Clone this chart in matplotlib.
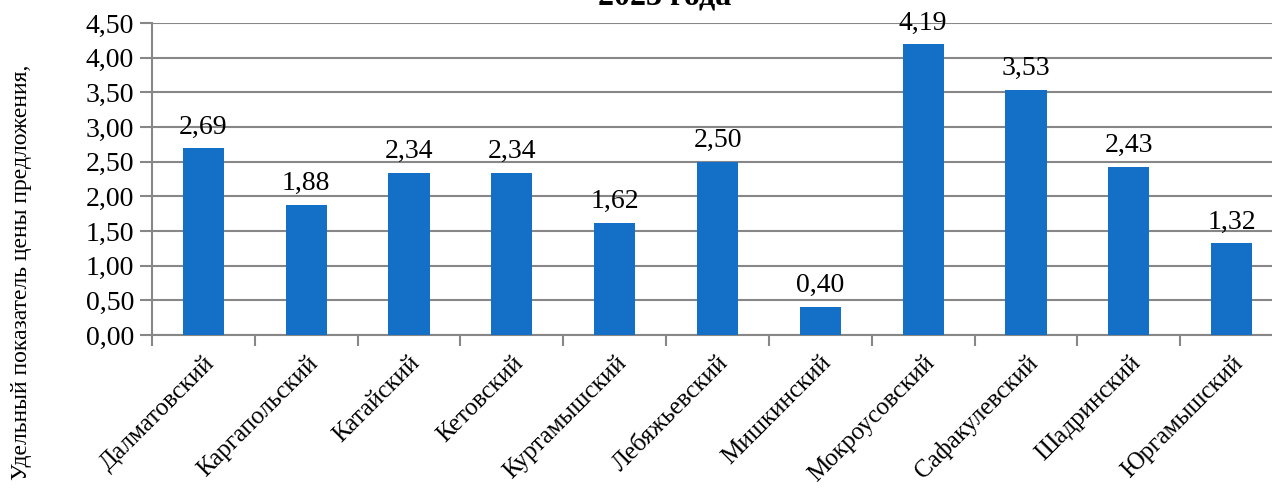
import numpy as np
from matplotlib import pyplot as plt

districts = ['Далматовский', 'Каргапольский', 'Катайский', 'Кетовский', 'Куртамышский',
             'Лебяжьевский', 'Мишкинский', 'Мокроусовский', 'Сафакулевский', 'Шадринский',
             'Юргамышский']
values = [2.69, 1.88, 2.34, 2.34, 1.62, 2.50, 0.40, 4.19, 3.53, 2.43, 1.32]
yticks = [0.0, 0.5, 1.0, 1.5, 2.0, 2.5, 3.0, 3.5, 4.0, 4.5]

plt.rcParams['font.family'] = ['Liberation Serif', 'DejaVu Serif']

fig = plt.figure(figsize=(12.72, 4.92), dpi=100)
ax = fig.add_axes([152 / 1272, 1 - 335 / 492, 1131 / 1272, 312 / 492])

x = np.arange(len(districts))
ax.bar(x, values, width=0.4, color='#1470C6', zorder=3)

for xi, v in zip(x, values):
    ax.text(xi, v + 0.13, f"{v:.2f}".replace('.', ','), ha='center', va='bottom', fontsize=20)

ax.set_xlim(-0.5, len(districts) - 0.5)
ax.set_ylim(0, 4.5)
ax.set_yticks(yticks)
ax.set_yticklabels([f"{t:.2f}".replace('.', ',') for t in yticks], fontsize=20)
ax.grid(axis='y', color='#878787', linewidth=1.5, zorder=0)

# подписи по центрам категорий, засечки по границам
ax.set_xticks(x)
ax.set_xticklabels(districts, fontsize=18, rotation=45, ha='right', va='top',
                   rotation_mode='anchor')
ax.tick_params(axis='x', which='major', length=0, pad=12)
ax.set_xticks(np.arange(len(districts) + 1) - 0.5, minor=True)
ax.tick_params(axis='x', which='minor', length=8, width=1.5, color='#878787')
ax.tick_params(axis='y', length=9, width=1.5, color='#878787', pad=4)

for s in ['top', 'right']:
    ax.spines[s].set_visible(False)
for s in ['left', 'bottom']:
    ax.spines[s].set_color('#878787')
    ax.spines[s].set_linewidth(1.5)

fig.text(665 / 1272, 1 - 4 / 492, '2023 года', ha='center', va='baseline',
         fontsize=23, fontweight='bold')
fig.text(22 / 1272, 1 - 272 / 492, 'Удельный показатель цены предложения,',
         rotation=90, ha='center', va='center', fontsize=17)

fig.savefig('out.png', dpi=100)
plt.close()
